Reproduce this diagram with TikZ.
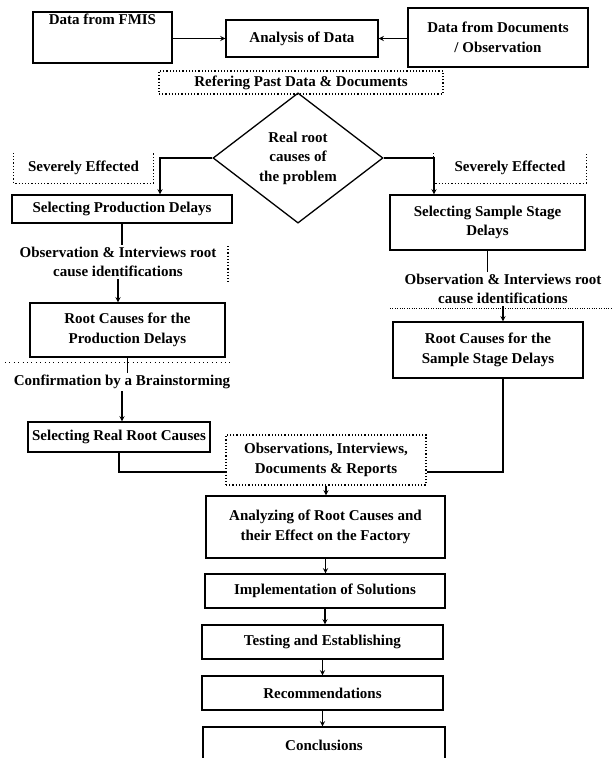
\documentclass[tikz,border=0pt]{standalone}
\usepackage{fontspec}
\setmainfont{Liberation Serif}
\usetikzlibrary{shapes.geometric}

\begin{document}
\begin{tikzpicture}[x=1pt,y=-1pt,
    every node/.style={font=\fontsize{15}{19.5}\selectfont\bfseries,align=center,inner sep=2pt},
    box/.style={draw,line width=1.3pt},
    dotbox/.style={draw,dotted,line width=1.2pt},
    decision/.style={draw,diamond,line width=1.3pt,inner sep=0pt}]
  \path[use as bounding box,fill=white] (0,0) rectangle (612,758);
  \draw
    (102.5,37.5) node[box,minimum width=139pt,minimum height=51pt,text depth=36pt] (fmis){Data from FMIS}
    (302,38.5) node[box,minimum width=152pt,minimum height=37pt] (analysis){Analysis of Data}
    (498,37.5) node[box,minimum width=180pt,minimum height=59pt] (docs){Data from Documents\\/ Observation}
    (301,82.5) node[dotbox,minimum width=284pt,minimum height=23pt] (refer){Refering Past Data \& Documents}
    (298,158) node[decision,minimum width=170pt,minimum height=126pt] (dia){Real root\\causes of\\the problem}
    (83.5,168) node[minimum width=139pt,minimum height=30pt] (lsev){Severely Effected}
    (510,168) node[minimum width=152pt,minimum height=30pt] (rsev){Severely Effected}
    (122,209) node[box,minimum width=220pt,minimum height=28pt] (prod){Selecting Production Delays}
    (487.5,222.5) node[box,minimum width=195pt,minimum height=55pt] (sample){Selecting Sample Stage\\Delays}
    (118,262) node (lobs){Observation \& Interviews root\\cause identifications}
    (127.5,330) node[box,minimum width=195pt,minimum height=54pt] (root1){Root Causes for the\\Production Delays}
    (122,382) node (conf){Confirmation by a Brainstorming}
    (119,437) node[box,minimum width=182pt,minimum height=30pt] (realroot){Selecting Real Root Causes}
    (503,289) node (robs){Observation \& Interviews root\\cause identifications}
    (488,350) node[box,minimum width=190pt,minimum height=56pt] (root2){Root Causes for the\\Sample Stage Delays}
    (326,460) node[dotbox,minimum width=200pt,minimum height=50pt] (obs){Observations, Interviews,\\Documents \& Reports}
    (325.5,527) node[box,minimum width=239pt,minimum height=62pt] (analyze){Analyzing of Root Causes and\\their Effect on the Factory}
    (325,591) node[box,minimum width=240pt,minimum height=34pt] (impl){Implementation of Solutions}
    (322.5,642) node[box,minimum width=241pt,minimum height=34pt] (test){Testing and Establishing}
    (322.5,693) node[box,minimum width=241pt,minimum height=34pt] (recom){Recommendations}
    (324,745) node[box,minimum width=242pt,minimum height=36pt] (concl){Conclusions};
  % open dotted frames
  \draw[dotted,line width=1.2pt] (lsev.north west) |- (lsev.south east) -- (lsev.north east);
  \draw[dotted,line width=1.2pt] (rsev.north west) |- (rsev.south east) -- (rsev.north east);
  \draw[dotted,line width=1.2pt] (228,246) -- (228,282);
  \draw[loosely dotted] (5,362) -- (230,362);
  \draw[dotted] (390,308) -- (612,308);
  \begin{scope}[line width=1.3pt,->,>=stealth]
    \draw (fmis.east |- analysis) -- (analysis.west);
    \draw (docs.west |- analysis) -- (analysis.east);
    \draw (dia.west) -| ([xshift=38pt]prod.north);
    \draw (dia.east) -| ([xshift=-53.5pt]sample.north);
    \draw[-] (prod.south) -- (prod.south |- lobs.north);
    \draw (lobs.south) -- (lobs.south |- root1.north);
    \draw[-] (root1.south) -- (root1.south |- conf.north);
    \draw (conf.south) -- (conf.south |- realroot.north);
    \draw[-] (realroot.south) |- ([yshift=-12pt]obs.west);
    \draw[-] (sample.south) -- (sample.south |- robs.north);
    \draw (robs.south) -- (robs.south |- root2.north);
    \draw[-] (root2.south -| robs.south) |- ([yshift=-12pt]obs.east);
    \draw (obs.south) -- (obs.south |- analyze.north);
    \foreach \a/\b in {analyze/impl,impl/test,test/recom,recom/concl}
      \draw (\a.south) -- (\a.south |- \b.north);
  \end{scope}
\end{tikzpicture}
\end{document}
